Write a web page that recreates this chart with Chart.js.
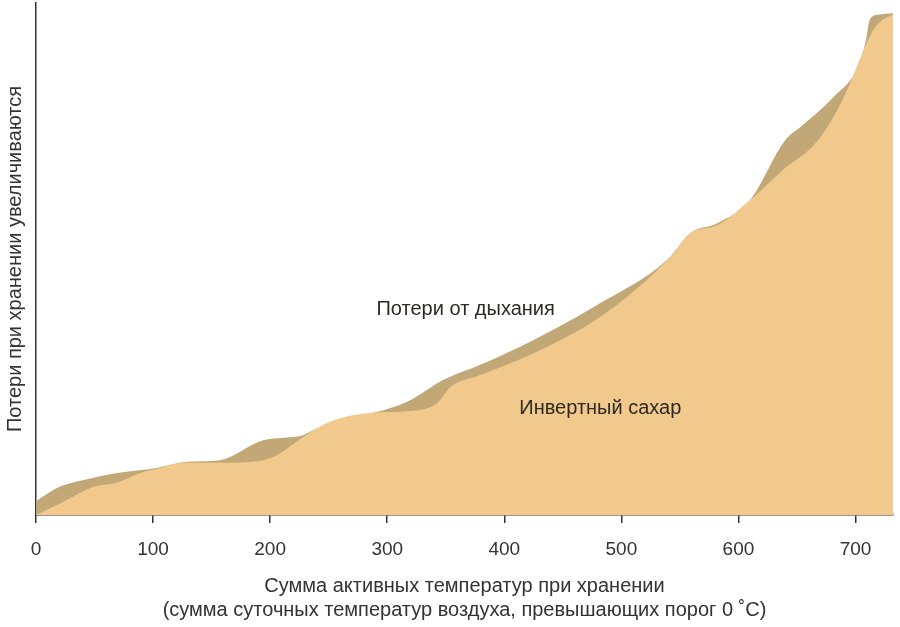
<!DOCTYPE html>
<html>
<head>
<meta charset="utf-8">
<script src="https://cdn.jsdelivr.net/npm/chart.js@4/dist/chart.umd.min.js"></script>
<style>
  html, body { margin: 0; padding: 0; background: #fff; }
  #wrap { width: 900px; height: 627px; }
</style>
</head>
<body>
<div id="wrap"><canvas id="myChart"></canvas></div>
<script>
// сумма активных температур (ось X) и относительные потери (ось Y, без шкалы)
const respX = [0, 20, 40, 69, 103, 129, 157, 194, 228, 237, 260, 291, 317, 348, 379, 425, 476, 539, 559, 582, 610, 636, 642, 653, 681, 702, 709, 712, 719, 732];
const respY = [2.7, 5.5, 6.8, 8.2, 9.2, 10.4, 10.7, 14.6, 15.6, 16.6, 18.6, 20.1, 22.1, 26.4, 29.3, 34.2, 40.6, 49.8, 55.1, 57.0, 61.5, 71.9, 73.8, 75.8, 81.6, 87.5, 92.8, 96.7, 97.7, 98.0];

const sugarX = [0, 26, 49, 69, 89, 106, 126, 157, 185, 194, 206, 228, 251, 285, 328, 343, 354, 379, 425, 482, 542, 559, 582, 610, 638, 668, 690, 707, 715, 723, 732];
const sugarY = [0, 2.9, 5.5, 6.3, 8.2, 9.2, 10.2, 10.2, 10.4, 10.7, 11.7, 15.2, 18.2, 19.9, 20.5, 21.9, 25.0, 27.3, 31.6, 38.7, 50.4, 55.1, 56.6, 61.5, 67.4, 73.2, 81.6, 90.8, 94.7, 96.7, 97.7];

const xTicks = [0, 100, 200, 300, 400, 500, 600, 700];

// подписи внутри графика (в координатах данных)
const labelText = ['Потери от дыхания', 'Инвертный сахар'];
const labelX = [367, 482];
const labelY = [40.2, 20.9];

const toPoints = (xs, ys) => xs.map((x, i) => ({ x: x, y: ys[i] }));

Chart.defaults.font.family = "'Liberation Sans', Arial, sans-serif";
Chart.defaults.font.size = 19;
Chart.defaults.color = '#333';

const areaLabels = {
  id: 'areaLabels',
  afterDatasetsDraw(chart) {
    const { ctx, scales } = chart;
    ctx.save();
    ctx.font = "20px 'Liberation Sans', Arial, sans-serif";
    ctx.fillStyle = '#2e2a25';
    ctx.textAlign = 'center';
    ctx.textBaseline = 'middle';
    labelText.forEach((t, i) => {
      ctx.fillText(t, scales.x.getPixelForValue(labelX[i]), scales.y.getPixelForValue(labelY[i]));
    });
    ctx.restore();
  }
};

var ctx = document.getElementById('myChart').getContext('2d');
var myChart = new Chart(ctx, {
  type: 'line',
  data: {
    datasets: [{
      label: 'Инвертный сахар',
      data: toPoints(sugarX, sugarY),
      backgroundColor: '#f2c98c',
      borderWidth: 0,
      fill: 'origin'
    }, {
      label: 'Потери от дыхания',
      data: toPoints(respX, respY),
      backgroundColor: '#c2a877',
      borderWidth: 0,
      fill: 'origin'
    }]
  },
  options: {
    responsive: true,
    maintainAspectRatio: false,
    animation: false,
    layout: { padding: { top: 3, right: 7, left: 0, bottom: 0 } },
    elements: {
      point: { radius: 0, hoverRadius: 0 },
      line: { cubicInterpolationMode: 'monotone' }
    },
    plugins: {
      legend: { display: false },
      tooltip: { enabled: false }
    },
    scales: {
      x: {
        type: 'linear',
        min: 0,
        max: 732,
        afterBuildTicks: (scale) => { scale.ticks = xTicks.map(v => ({ value: v })); },
        afterFit: (scale) => { scale.height = 112; },
        ticks: { padding: 15, color: '#333', font: { size: 19 } },
        grid: { drawOnChartArea: false, drawTicks: true, tickLength: 8, color: '#333', lineWidth: 1.5 },
        border: { display: true, color: '#333', width: 1.5 },
        title: {
          display: true,
          text: ['Сумма активных температур при хранении',
                 '(сумма суточных температур воздуха, превышающих порог 0 ˚С)'],
          font: { size: 20, lineHeight: 1.2 },
          color: '#333',
          padding: { top: 0, bottom: 5 }
        }
      },
      y: {
        min: 0,
        max: 100,
        afterFit: (scale) => { scale.width = 36; },
        ticks: { display: false },
        grid: { display: false },
        border: { display: true, color: '#333', width: 1.5 },
        title: {
          display: true,
          text: 'Потери при хранении увеличиваются',
          font: { size: 20 },
          color: '#333',
          padding: { top: 3, bottom: 0 }
        }
      }
    }
  },
  plugins: [areaLabels]
});
</script>
</body>
</html>
